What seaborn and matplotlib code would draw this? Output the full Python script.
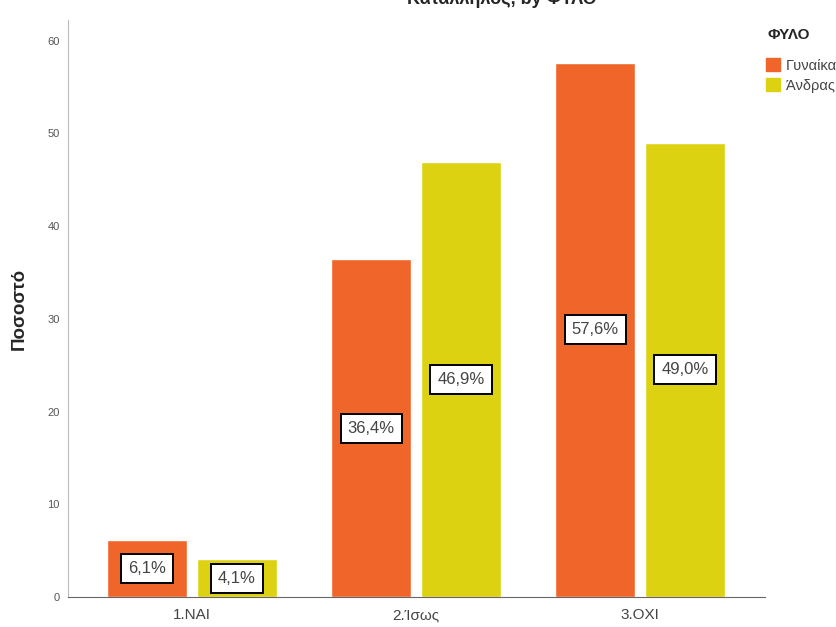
import pandas as pd
import seaborn as sns
import matplotlib.pyplot as plt

# answer categories and percentage per gender
answers = ['1.ΝΑΙ', '2.Ίσως', '3.ΟΧΙ']
genders = ['Γυναίκα', 'Άνδρας']
women = [6.1, 36.4, 57.6]
men = [4.1, 46.9, 49.0]
colors = ['#F0652A', '#DDD212']

df = pd.DataFrame({
    'answer': answers * 2,
    'gender': [genders[0]] * 3 + [genders[1]] * 3,
    'pct': women + men,
})

sns.set_style('white')
plt.rcParams['font.family'] = ['Liberation Sans', 'DejaVu Sans']

fig = plt.figure(figsize=(8.36, 6.27), dpi=100)
ax = fig.add_axes([0.0813, 0.0478, 0.834, 0.920])

sns.barplot(data=df, x='answer', y='pct', hue='gender', palette=colors,
            width=0.8, gap=0.11, saturation=1, ax=ax, legend=False)

for cont in ax.containers:
    ax.bar_label(cont, labels=[f'{v:.1f}%'.replace('.', ',') for v in cont.datavalues],
                 label_type='center', fontsize=12, color='#444444',
                 bbox=dict(facecolor='white', edgecolor='black', linewidth=1.4, pad=5))

ax.set_ylim(0, 62.2)
ax.set_xlim(-0.554, 2.558)
ax.set_yticks(range(0, 61, 10))
ax.tick_params(axis='y', labelsize=8, colors='#555555', length=0, pad=6)
ax.tick_params(axis='x', labelsize=11, colors='#444444', length=0, pad=8)
ax.set_xlabel('')
ax.set_ylabel('Ποσοστό', fontsize=13.5, fontweight='bold', labelpad=14)
for s in ['top', 'right']:
    ax.spines[s].set_visible(False)
ax.spines['left'].set_color('#BBBBBB')
ax.spines['bottom'].set_color('#666666')

# title sits mostly above the canvas, as in the source
fig.text(0.60, 1.002, 'Κατάλληλος, by ΦΥΛΟ', ha='center', va='center',
         fontsize=13, fontweight='bold')

# legend, partly cut by the right edge like the source
fig.text(0.918, 1 - 35 / 627, 'ΦΥΛΟ', ha='left', va='center',
         fontsize=11, fontweight='bold')
handles = [plt.Rectangle((0, 0), 1, 1, color=c) for c in colors]
leg = fig.legend(handles, genders, loc='upper left',
                 bbox_to_anchor=(0.916, 1 - 58 / 627), frameon=False, fontsize=10.5,
                 handlelength=1.0, handleheight=1.0, handletextpad=0.4,
                 labelspacing=0.4, borderpad=0, borderaxespad=0)
for t in leg.get_texts():
    t.set_color('#444444')

fig.savefig('out.png', dpi=100)
